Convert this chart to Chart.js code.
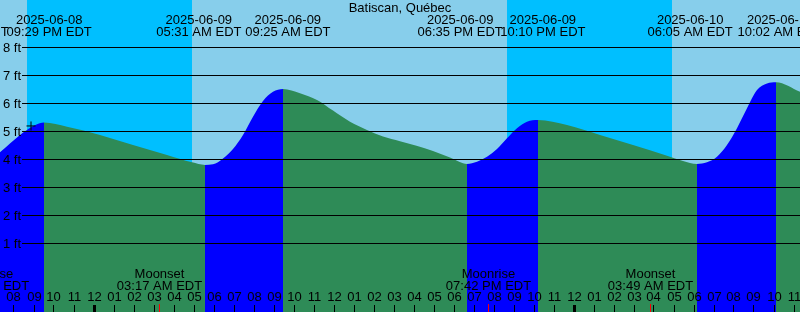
<!DOCTYPE html>
<html>
<head>
<meta charset="utf-8">
<title>Batiscan, Québec</title>
<script src="https://cdn.jsdelivr.net/npm/chart.js@4.4.1/dist/chart.umd.min.js"></script>
<style>
  html, body { margin: 0; padding: 0; background: #87ceeb; }
  #wrap { width: 800px; height: 312px; }
</style>
</head>
<body>
<div id="wrap"><canvas id="tides" width="800" height="312"></canvas></div>
<script>
// times are hours from 2025-06-09 00:00 EDT, levels in feet
const curveTimes = [-4.675, -3.675, -3.325, -2.475, -1.325, 0.325, 1.975, 3.675, 4.925, 5.575,
  5.975, 6.475, 6.975, 7.475, 7.975, 8.475, 8.975, 9.475, 10.325, 11.175, 11.975, 12.825,
  13.675, 14.475, 15.325, 16.975, 17.825, 18.475, 18.675, 19.175, 19.675, 20.175, 20.675,
  21.175, 21.675, 22.225, 23.675, 25.325, 26.975, 28.675, 29.475, 30.175, 30.675, 31.175,
  31.675, 32.175, 32.675, 33.175, 33.675, 34.125, 35.325];
const curveLevels = [4.24, 4.86, 5.04, 5.30, 5.15, 4.86, 4.50, 4.14, 3.88, 3.79,
  3.81, 4.02, 4.36, 4.86, 5.51, 6.07, 6.40, 6.50, 6.35, 6.11, 5.73, 5.33,
  5.04, 4.80, 4.63, 4.29, 4.05, 3.85, 3.82, 3.90, 4.08, 4.36, 4.74,
  5.10, 5.33, 5.39, 5.21, 4.86, 4.50, 4.12, 3.93, 3.82, 3.88, 4.08,
  4.50, 5.10, 5.81, 6.46, 6.70, 6.74, 6.40];

// high / low tide labels along the top
const tideEventTimes = [-6.125, -2.517, 5.517, 9.417, 18.583, 22.167, 30.083, 34.033];
const tideEventKinds = ['low', 'high', 'low', 'high', 'low', 'high', 'low', 'high'];
const tideEventDates = ['2025-06-08', '2025-06-08', '2025-06-09', '2025-06-09',
  '2025-06-09', '2025-06-09', '2025-06-10', '2025-06-10'];
const tideEventClock = ['05:52 PM EDT', '09:29 PM EDT', '05:31 AM EDT', '09:25 AM EDT',
  '06:35 PM EDT', '10:10 PM EDT', '06:05 AM EDT', '10:02 AM EDT'];

// sun: night bands
const sunsetTimes = [-3.325, 20.675];
const sunriseTimes = [4.925, 28.925];

// moon events along the bottom
const moonTimes = [-5.367, 3.283, 19.7, 27.817];
const moonNames = ['Moonrise', 'Moonset', 'Moonrise', 'Moonset'];
const moonClock = ['06:38 PM EDT', '03:17 AM EDT', '07:42 PM EDT', '03:49 AM EDT'];

// mark
const markTimes = [-3.125];
const markLevels = [5.18];

// axes
const yTickValues = [1, 2, 3, 4, 5, 6, 7, 8];
const yTickLabels = ['1 ft', '2 ft', '3 ft', '4 ft', '5 ft', '6 ft', '7 ft', '8 ft'];
const hourStart = -4;
const hourLabels = ['08', '09', '10', '11',
  '12', '01', '02', '03', '04', '05', '06', '07', '08', '09', '10', '11',
  '12', '01', '02', '03', '04', '05', '06', '07', '08', '09', '10', '11',
  '12', '01', '02', '03', '04', '05', '06', '07', '08', '09', '10', '11'];

const DAY = '#87ceeb';
const NIGHT = '#00bfff';
const FLOOD = '#0000ff';
const EBB = '#2e8b57';
const FONT = '13px "Liberation Sans", Arial, sans-serif';

const tidePlugin = {
  id: 'tideDecor',
  beforeDatasetsDraw(chart) {
    const { ctx, chartArea: a, scales: { x } } = chart;
    ctx.save();
    ctx.fillStyle = DAY;
    ctx.fillRect(a.left, a.top, a.width, a.height);
    ctx.fillStyle = NIGHT;
    sunsetTimes.forEach((t, i) => {
      const x0 = Math.round(x.getPixelForValue(t));
      const x1 = Math.round(x.getPixelForValue(sunriseTimes[i]));
      ctx.fillRect(x0, a.top, x1 - x0, a.height);
    });
    ctx.restore();
  },
  afterDatasetsDraw(chart) {
    const { ctx, chartArea: a, scales: { x, y } } = chart;
    ctx.save();
    ctx.fillStyle = '#000';
    ctx.font = FONT;

    // level lines + labels
    ctx.textAlign = 'right';
    yTickValues.forEach((v, i) => {
      const py = Math.round(y.getPixelForValue(v));
      ctx.fillRect(22, py, a.right - 22, 1);
      ctx.fillText(yTickLabels[i], 21, py + 5);
    });

    // hour ticks
    ctx.textAlign = 'center';
    hourLabels.forEach((lab, i) => {
      const h = hourStart + i;
      const px = Math.round(x.getPixelForValue(h));
      if (((h % 24) + 24) % 24 === 0) ctx.fillRect(px - 1, 305, 3, 7);
      else ctx.fillRect(px, 305, 1, 7);
      ctx.fillText(lab, px + 0.5, 301);
    });

    // moon events
    moonTimes.forEach((t, i) => {
      const px = Math.round(x.getPixelForValue(t));
      ctx.fillStyle = '#ff0000';
      ctx.fillRect(px, 304, 1, 8);
      ctx.fillStyle = '#000';
      ctx.fillText(moonNames[i], px + 0.5, 278);
      ctx.fillText(moonClock[i], px + 0.5, 290);
    });

    // tide event labels
    tideEventTimes.forEach((t, i) => {
      const px = x.getPixelForValue(t) + (tideEventKinds[i] === 'high' ? 6 : -5);
      ctx.fillText(tideEventDates[i], px, 24);
      ctx.fillText(tideEventClock[i], px, 36);
    });

    // title
    ctx.fillText('Batiscan, Québec', 400, 12);
    ctx.restore();
  }
};

new Chart(document.getElementById('tides'), {
  type: 'line',
  data: {
    datasets: [
      {
        type: 'scatter',
        data: markTimes.map((t, i) => ({ x: t, y: markLevels[i] })),
        pointStyle: 'cross',
        pointRadius: 4.5,
        borderColor: '#000',
        borderWidth: 1
      },
      {
        data: curveTimes.map((t, i) => ({ x: t, y: curveLevels[i] })),
        fill: 'start',
        borderWidth: 0,
        borderColor: 'rgba(0,0,0,0)',
        backgroundColor: EBB,
        pointRadius: 0,
        cubicInterpolationMode: 'monotone',
        segment: {
          backgroundColor: c => (c.p1.parsed.y >= c.p0.parsed.y ? FLOOD : EBB)
        }
      }
    ]
  },
  options: {
    responsive: false,
    animation: false,
    events: [],
    layout: { padding: 0, autoPadding: false },
    plugins: { legend: { display: false }, tooltip: { enabled: false } },
    scales: {
      x: { type: 'linear', display: false, min: -4.675, max: 35.325 },
      y: { type: 'linear', display: false, min: 9.6786 - 312 / 28, max: 9.6786 }
    }
  },
  plugins: [tidePlugin]
});
</script>
</body>
</html>
